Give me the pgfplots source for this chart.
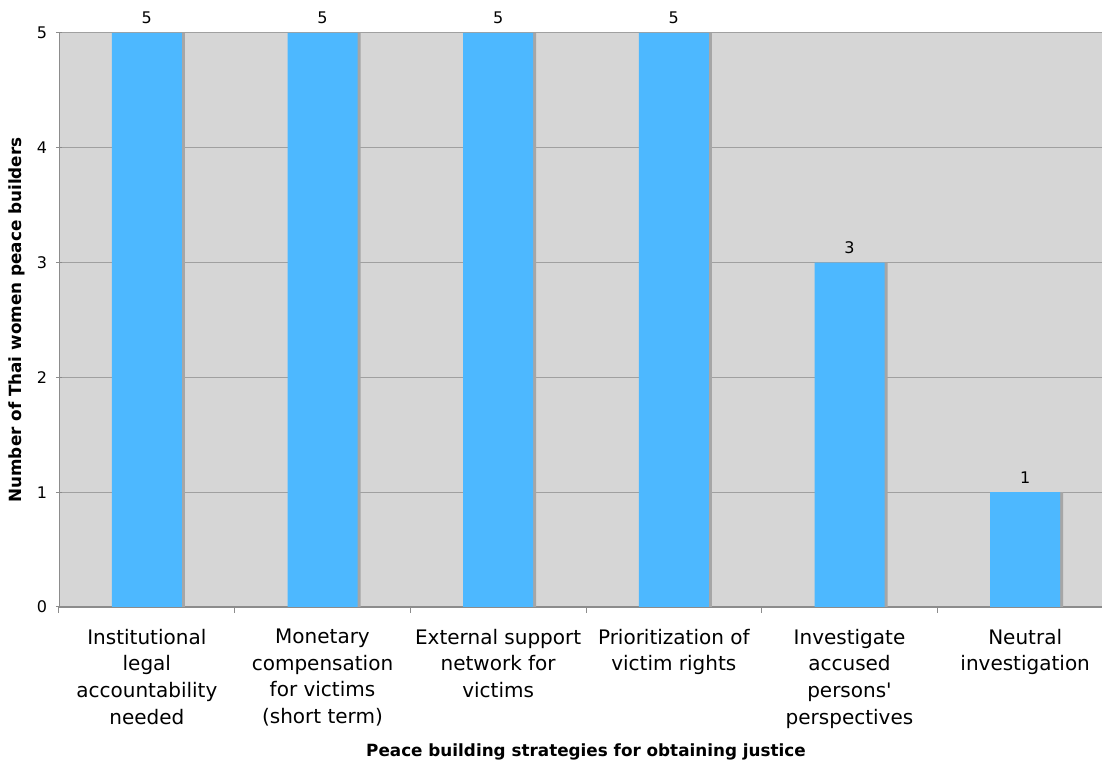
\documentclass[border=0pt]{standalone}
\usepackage{pgfplots}
\pgfplotsset{compat=1.18}
\usepackage{fontspec}
\setmainfont{DejaVu Sans}

\definecolor{barblue}{HTML}{4DB8FF}
\definecolor{barshadow}{HTML}{A6A6A6}
\definecolor{plotbg}{HTML}{D6D6D6}
\definecolor{gridgray}{HTML}{A0A0A0}
\definecolor{axisgray}{HTML}{8C8C8C}

\begin{document}
\begin{tikzpicture}
% page frame: 551pt x 381.5pt, plot area starts at the origin
\path[use as bounding box] (-29.5pt,-78pt) rectangle (521.5pt,303.5pt);
\begin{axis}[
  at={(0,0)}, anchor=south west,
  scale only axis,
  width=527pt, height=287pt,
  xmin=-0.5, xmax=5.5,
  ymin=0, ymax=5,
  /pgf/number format/assume math mode=true,
  ytick={0,1,2,3,4,5},
  % tick marks sit between the categories
  xtick={-0.5,0.5,1.5,2.5,3.5,4.5,5.5},
  xticklabels={},
  % category names at the bar centres, without tick marks
  extra x ticks={0,1,2,3,4,5},
  extra x tick labels={
    {Institutional\\legal\\accountability\\needed},
    {Monetary\\compensation\\for victims\\(short term)},
    {External support\\network for\\victims},
    {Prioritization of\\victim rights},
    {Investigate\\accused\\persons\textquotesingle\\perspectives},
    {Neutral\\investigation}},
  extra x tick style={major tick length=0pt, grid=none},
  x tick label style={align=center, font=\fontsize{10}{13.3}\selectfont, anchor=north, yshift=-7.5pt},
  y tick label style={font=\fontsize{8}{10}\selectfont, xshift=-1pt},
  major tick length=3pt,
  tick align=outside,
  tick style={draw=axisgray, line width=0.5pt},
  axis lines=left,
  axis line style={-, draw=axisgray},
  x axis line style={line width=1pt},
  axis background/.style={fill=plotbg},
  ymajorgrids,
  major grid style={draw=gridgray, line width=0.5pt},
  ylabel={\bfseries Number of Thai women peace builders},
  xlabel={\bfseries Peace building strategies for obtaining justice},
  every axis y label/.style={at={(axis description cs:-0.0398,0.5)}, rotate=90, anchor=center, font=\fontsize{8.4}{10}\selectfont},
  every axis x label/.style={at={(axis description cs:0.5,0)}, anchor=center, yshift=-72.5pt, font=\fontsize{8.4}{10}\selectfont},
  ybar, bar width=35pt,
  clip=true,
]
% drop shadow behind each bar
\addplot[fill=barshadow, draw=none, bar shift=1.5pt, forget plot]
  coordinates {(0,5) (1,5) (2,5) (3,5) (4,3) (5,1)};
% bars with their values on top
\addplot[fill=barblue, draw=none, bar shift=0pt,
  nodes near coords,
  every node near coord/.append style={font=\fontsize{8}{10}\selectfont, color=black, yshift=1pt}]
  coordinates {(0,5) (1,5) (2,5) (3,5) (4,3) (5,1)};
\end{axis}
\end{tikzpicture}
\end{document}
